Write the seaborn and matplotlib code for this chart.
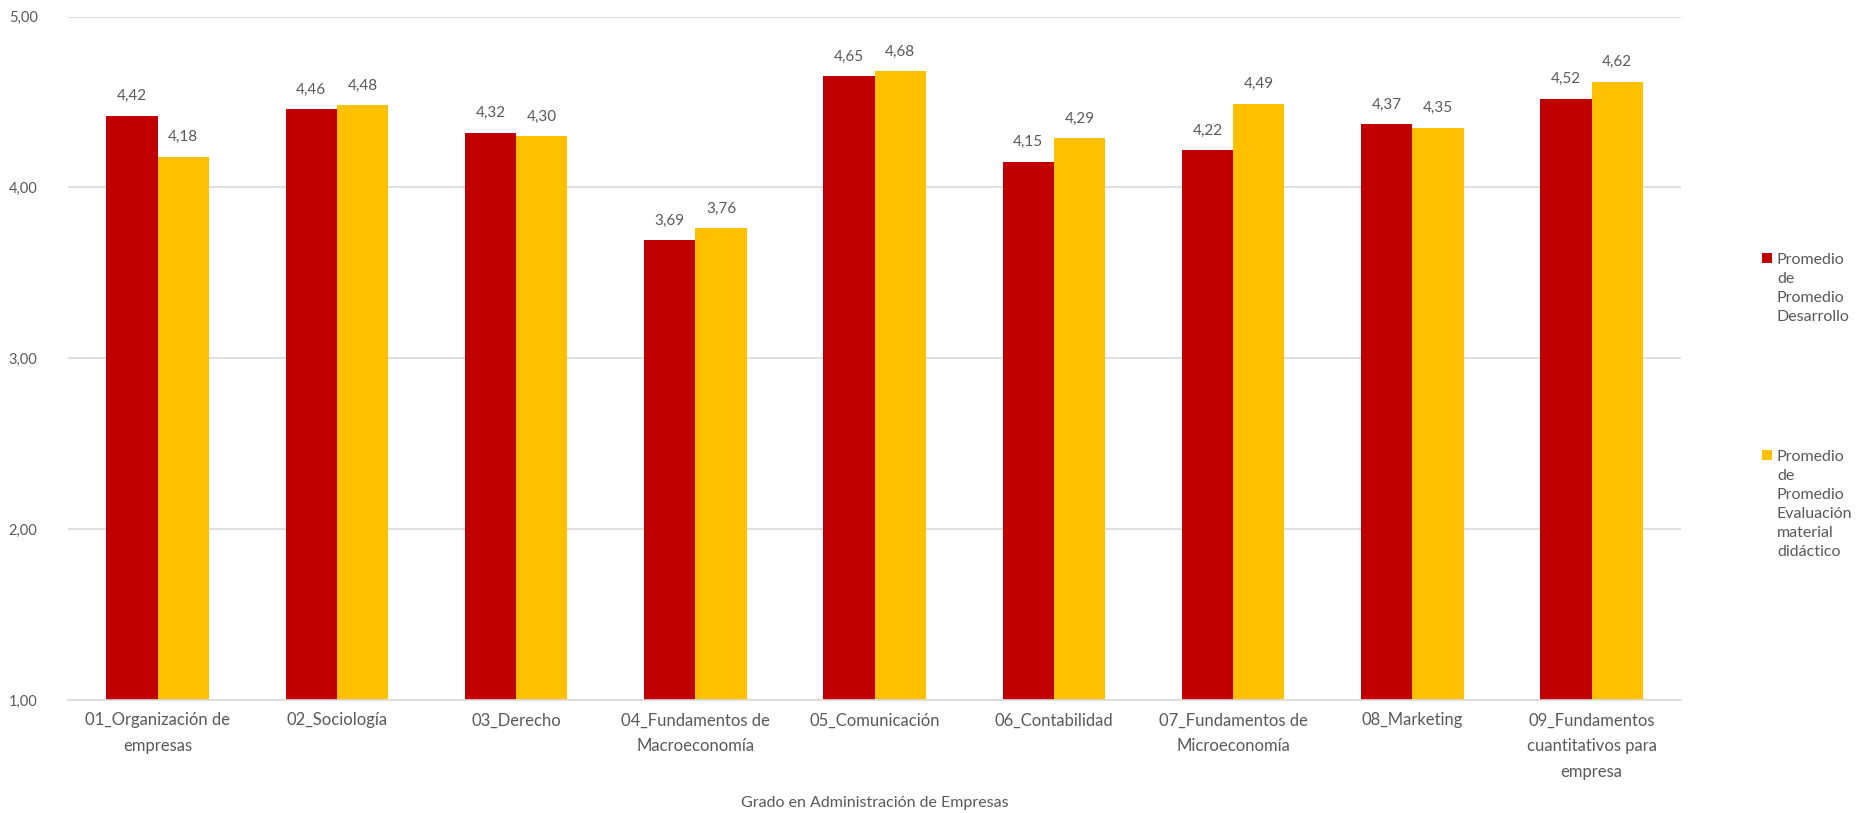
import numpy as np
import pandas as pd
import matplotlib
matplotlib.use("Agg")
import matplotlib.pyplot as plt
from matplotlib.patches import Rectangle
import seaborn as sns

# data
asignaturas = [
    "01_Organización de\nempresas",
    "02_Sociología",
    "03_Derecho",
    "04_Fundamentos de\nMacroeconomía",
    "05_Comunicación",
    "06_Contabilidad",
    "07_Fundamentos de\nMicroeconomía",
    "08_Marketing",
    "09_Fundamentos\ncuantitativos para\nempresa",
]
desarrollo = [4.42, 4.46, 4.32, 3.69, 4.65, 4.15, 4.22, 4.37, 4.52]
material = [4.18, 4.48, 4.30, 3.76, 4.68, 4.29, 4.49, 4.35, 4.62]
series = ["Promedio\nde\nPromedio\nDesarrollo",
          "Promedio\nde\nPromedio\nEvaluación\nmaterial\ndidáctico"]
colores = ["#C00000", "#FFC000"]
yticks = [1, 2, 3, 4, 5]

df = pd.DataFrame({
    "asignatura": asignaturas * 2,
    "serie": [series[0]] * len(asignaturas) + [series[1]] * len(asignaturas),
    "valor": desarrollo + material,
})

sns.set_style("white")
plt.rcParams['font.family'] = ['Lato', 'DejaVu Sans']
gris = "#595959"
W, H = 1870, 813

fig = plt.figure(figsize=(W / 100, H / 100), dpi=100)
ax = fig.add_axes([0.0364, 0.139, 0.8626, 0.8405])

sns.barplot(data=df, x="asignatura", y="valor", hue="serie", hue_order=series,
            palette=colores, width=0.572, gap=0, saturation=1, ax=ax,
            errorbar=None, legend=False, linewidth=0)

for cont in ax.containers:
    labels = [f"{b.get_height():.2f}".replace(".", ",") for b in cont]
    ax.bar_label(cont, labels=labels, padding=9, fontsize=11, color=gris)

ax.set_ylim(1, 5)
ax.set_yticks(yticks)
ax.set_yticklabels([f"{t:.2f}".replace(".", ",") for t in yticks])
ax.yaxis.grid(True, color="#d9d9d9", linewidth=1.2)
ax.set_axisbelow(True)
ax.set_xlim(-0.5, len(asignaturas) - 0.5)

for s in ["top", "right", "left"]:
    ax.spines[s].set_visible(False)
ax.spines["bottom"].set_color("#d9d9d9")
ax.spines["bottom"].set_linewidth(1.2)

ax.tick_params(axis="y", length=0, labelsize=10.5, labelcolor=gris, pad=22)
ax.tick_params(axis="x", length=0, labelsize=12, labelcolor=gris, pad=9)
for lbl in ax.get_xticklabels():
    lbl.set_linespacing(1.75)
ax.set_ylabel("")
ax.set_xlabel("Grado en Administración de Empresas", fontsize=11.5, color=gris, va="center")
ax.xaxis.set_label_coords(0.5, -(803 - 700) / (0.8405 * H))

# legend drawn to the right, as in the reference
leg_items = [(253, series[0], colores[0]), (450, series[1], colores[1])]
for top, txt, col in leg_items:
    fig.add_artist(Rectangle((1762 / W, 1 - (top + 10) / H), 10 / W, 10 / H,
                             transform=fig.transFigure, color=col, lw=0))
    fig.text(1777 / W, 1 - top / H, txt, fontsize=11.5, color=gris,
             va="top", ha="left", linespacing=1.45)

plt.savefig("out.png", dpi=100)
